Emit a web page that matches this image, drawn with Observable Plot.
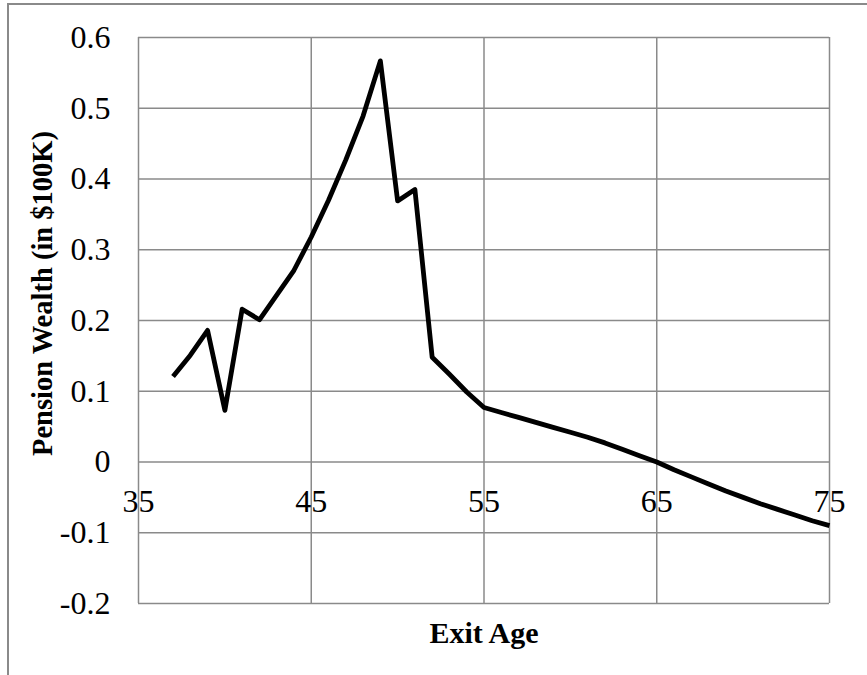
<!DOCTYPE html>
<html>
<head>
<meta charset="utf-8">
<script src="https://cdn.jsdelivr.net/npm/d3@7"></script>
<script src="https://cdn.jsdelivr.net/npm/@observablehq/plot@0.6"></script>
<style>
  html, body { margin: 0; padding: 0; background: #fff; }
  #wrap { position: relative; width: 867px; height: 675px; overflow: hidden; }
  #border { position: absolute; left: 7px; top: 3px; width: 870px; height: 680px;
            border-left: 2px solid #8a8a8a; border-top: 2px solid #8a8a8a; pointer-events: none; }
</style>
</head>
<body>
<div id="wrap"><div id="border"></div></div>
<script>
// Exit age (years)
const exitAge = [37, 38, 39, 40, 41, 42, 43, 44, 45, 46, 47, 48, 49, 50, 51, 52, 53, 54, 55, 56,
                 57, 58, 59, 60, 61, 62, 63, 64, 65, 66, 67, 68, 69, 70, 71, 72, 73, 74, 75];
// Pension wealth (in $100K)
const pensionWealth = [0.121, 0.151, 0.186, 0.073, 0.216, 0.201, 0.236, 0.271, 0.318, 0.370,
                       0.427, 0.489, 0.567, 0.369, 0.385, 0.148, 0.124, 0.099, 0.077, 0.070,
                       0.063, 0.056, 0.049, 0.042, 0.035, 0.027, 0.018, 0.009, 0.000, -0.011,
                       -0.021, -0.031, -0.041, -0.050, -0.059, -0.067, -0.075, -0.083, -0.090];

const xTicks = [35, 45, 55, 65, 75];
const xTickLabels = ["35", "45", "55", "65", "75"];
const yTicks = [-0.2, -0.1, 0, 0.1, 0.2, 0.3, 0.4, 0.5, 0.6];
const yTickLabels = ["-0.2", "-0.1", "0", "0.1", "0.2", "0.3", "0.4", "0.5", "0.6"];
const xAxisCross = 0;

const xTitle = "Exit Age";
const yTitle = "Pension Wealth (in $100K)";

const rows = exitAge.map((a, i) => ({age: a, value: pensionWealth[i]}));
const xLabelRows = xTicks.map((v, i) => ({x: v, y: xAxisCross, label: xTickLabels[i]}));

const font = "'Liberation Serif', 'Times New Roman', serif";
const gridColor = "#8a8a8a";

const chart = Plot.plot({
  width: 867,
  height: 675,
  marginLeft: 138,
  marginRight: 38,
  marginTop: 37,
  marginBottom: 72,
  style: {fontFamily: font, fontSize: "32px", color: "#000", background: "transparent", overflow: "visible"},
  x: {domain: [35, 75], axis: null},
  y: {domain: [-0.2, 0.6], ticks: yTicks, tickSize: 0, tickPadding: 28,
      tickFormat: d => yTickLabels[yTicks.indexOf(d)], label: null},
  marks: [
    Plot.ruleY(yTicks, {stroke: gridColor, strokeWidth: 1.5, strokeOpacity: 1}),
    Plot.ruleX(xTicks, {stroke: gridColor, strokeWidth: 1.5, strokeOpacity: 1}),
    Plot.line(rows, {x: "age", y: "value", stroke: "#000", strokeWidth: 4.8,
                     strokeLinejoin: "round", strokeLinecap: "butt"}),
    Plot.text(xLabelRows, {x: "x", y: "y", text: "label", dy: 40, fontSize: 32,
                           fill: "#000", textAnchor: "middle", lineAnchor: "middle"}),
    Plot.text([xTitle], {frameAnchor: "bottom", text: d => d, dy: 30, fontSize: 30,
                         fontWeight: "bold", fill: "#000", textAnchor: "middle", lineAnchor: "middle"}),
    Plot.text([yTitle], {frameAnchor: "left", text: d => d, dx: -96, dy: -27, rotate: -90,
                         fontSize: 28.5, fontWeight: "bold", fill: "#000",
                         textAnchor: "middle", lineAnchor: "middle"})
  ]
});
document.getElementById("wrap").prepend(chart);
</script>
</body>
</html>
